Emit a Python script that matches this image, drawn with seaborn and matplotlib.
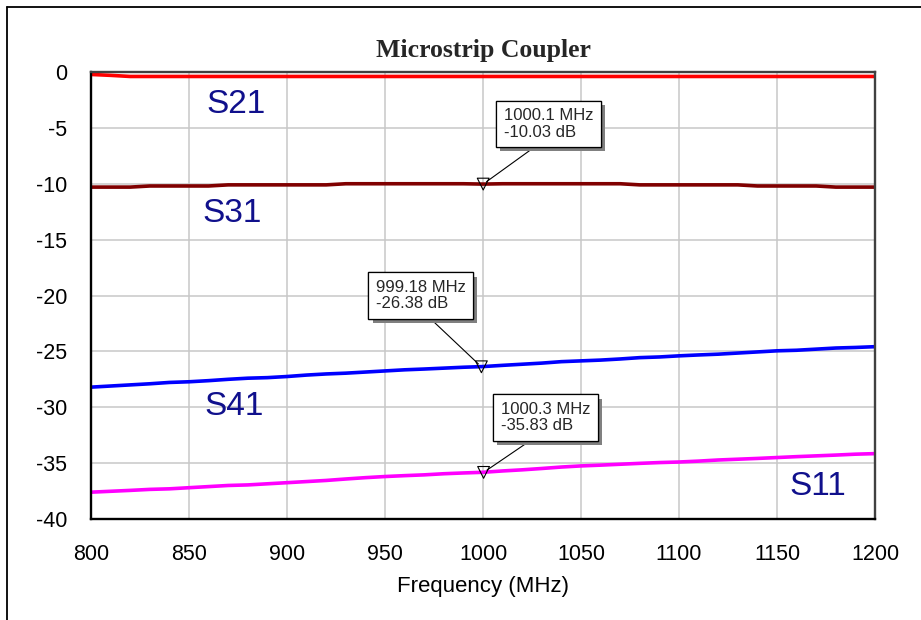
import numpy as np
import pandas as pd
import matplotlib
matplotlib.use("Agg")
import matplotlib.pyplot as plt
import matplotlib.patheffects as pe
from matplotlib.lines import Line2D
import seaborn as sns

# ---------------- data ----------------
freq = list(range(800, 1201, 10))

s21 = [-0.22, -0.30] + [-0.40] * 39

s31 = [-10.3, -10.3, -10.3, -10.2, -10.2, -10.2, -10.2, -10.1, -10.1, -10.1,
       -10.1, -10.1, -10.1, -10.0, -10.0, -10.0, -10.0, -10.0, -10.0, -10.0,
       -10.03, -10.0, -10.0, -10.0, -10.0, -10.0, -10.0, -10.0, -10.1, -10.1,
       -10.1, -10.1, -10.1, -10.1, -10.2, -10.2, -10.2, -10.2, -10.3, -10.3,
       -10.3]

s41 = [-28.20, -28.10, -28.00, -27.90, -27.78, -27.72, -27.62, -27.50, -27.40, -27.35,
       -27.25, -27.12, -27.02, -26.95, -26.85, -26.75, -26.65, -26.58, -26.50, -26.42,
       -26.36, -26.25, -26.15, -26.05, -25.92, -25.85, -25.78, -25.68, -25.56, -25.50,
       -25.40, -25.32, -25.25, -25.15, -25.05, -24.95, -24.90, -24.80, -24.70, -24.65,
       -24.58]

s11 = [-37.60, -37.52, -37.44, -37.35, -37.30, -37.20, -37.10, -37.00, -36.95, -36.85,
       -36.75, -36.65, -36.55, -36.42, -36.30, -36.20, -36.12, -36.05, -35.95, -35.88,
       -35.82, -35.70, -35.60, -35.48, -35.35, -35.25, -35.18, -35.10, -35.02, -34.95,
       -34.90, -34.82, -34.72, -34.65, -34.58, -34.50, -34.42, -34.35, -34.28, -34.20,
       -34.15]

series_names = ["S21", "S31", "S41", "S11"]
series_colors = ["#ff0000", "#800000", "#0000ff", "#ff00ff"]

label_x = [874, 872, 873, 1171]
label_y = [-2.95, -12.7, -29.9, -37.1]

marker_freq = [1000.1, 999.18, 1000.3]
marker_db = [-10.03, -26.38, -35.83]
marker_text = ["1000.1 MHz\n-10.03 dB", "999.18 MHz\n-26.38 dB", "1000.3 MHz\n-35.83 dB"]

x_ticks = [800, 850, 900, 950, 1000, 1050, 1100, 1150, 1200]
y_ticks = [0, -5, -10, -15, -20, -25, -30, -35, -40]

# ---------------- style ----------------
sns.set_theme(style="whitegrid")
plt.rcParams["font.family"] = ["Liberation Sans", "DejaVu Sans"]

df = pd.DataFrame({
    "Frequency": freq * 4,
    "dB": s21 + s31 + s41 + s11,
    "Series": sum([[n] * len(freq) for n in series_names], []),
})

W, H = 921, 620
fig = plt.figure(figsize=(W / 100, H / 100), dpi=100)
fig.patch.set_facecolor("white")
ax = fig.add_axes([91 / W, 1 - 519 / H, (875 - 91) / W, (519 - 72) / H])

sns.lineplot(data=df, x="Frequency", y="dB", hue="Series",
             palette=dict(zip(series_names, series_colors)),
             linewidth=2.6, legend=False, ax=ax)

ax.set_xlim(800, 1200)
ax.set_ylim(-40, 0)
ax.set_xticks(x_ticks)
ax.set_yticks(y_ticks)
ax.set_xticklabels([str(t) for t in x_ticks])
ax.set_yticklabels([str(t) for t in y_ticks])
ax.tick_params(axis="both", length=0, labelsize=15.5, colors="black")
ax.tick_params(axis="x", pad=18)
ax.tick_params(axis="y", pad=17)
ax.grid(True, color="#c8c8c8", linewidth=1.1)
ax.set_ylabel("")
ax.set_xlabel("Frequency (MHz)", fontsize=16, labelpad=8, color="black")
ax.set_facecolor("white")
for side, sp in ax.spines.items():
    sp.set_visible(True)
    sp.set_linewidth(1.7)
    sp.set_color("black" if side in ("left", "bottom") else "#404040")

# series labels
for n, lx, ly in zip(series_names, label_x, label_y):
    ax.text(lx, ly, n, color="#10108c", fontsize=24, ha="center", va="center")

# markers
ax.scatter(marker_freq, marker_db, marker="v", s=72, facecolors="none",
           edgecolors="black", linewidths=0.8, zorder=5)

offsets = [(20.5, 44.5), (-105.5, 55.5), (17.0, 39.0)]
relx = [0.46, 0.52, 0.45]
for fx, fy, txt, off, rx in zip(marker_freq, marker_db, marker_text, offsets, relx):
    ann = ax.annotate(txt, xy=(fx, fy), xytext=off, textcoords="offset pixels",
                      ha="left", va="bottom", fontsize=12, linespacing=1.12,
                      bbox=dict(boxstyle="square,pad=0.45", fc="white", ec="black", lw=0.9),
                      arrowprops=dict(arrowstyle="-", color="black", lw=0.8,
                                      relpos=(rx, 0.0), shrinkA=0, shrinkB=3),
                      zorder=6)
    ann.get_bbox_patch().set_path_effects(
        [pe.withSimplePatchShadow(offset=(3, -3), shadow_rgbFace="#808080", alpha=1.0),
         pe.Normal()])

# title
fig.text(483 / W, 1 - 57 / H, "Microstrip Coupler", ha="center", va="baseline",
         fontsize=18.5, fontweight="bold", family=["Liberation Serif", "DejaVu Serif"])

# outer frame (partially visible)
fig.add_artist(Line2D([7 / W, 1.0], [1 - 7 / H, 1 - 7 / H], transform=fig.transFigure,
                      color="black", lw=1.3))
fig.add_artist(Line2D([7 / W, 7 / W], [0.0, 1 - 7 / H], transform=fig.transFigure,
                      color="black", lw=1.3))

fig.savefig("out.png", dpi=100, facecolor="white")
